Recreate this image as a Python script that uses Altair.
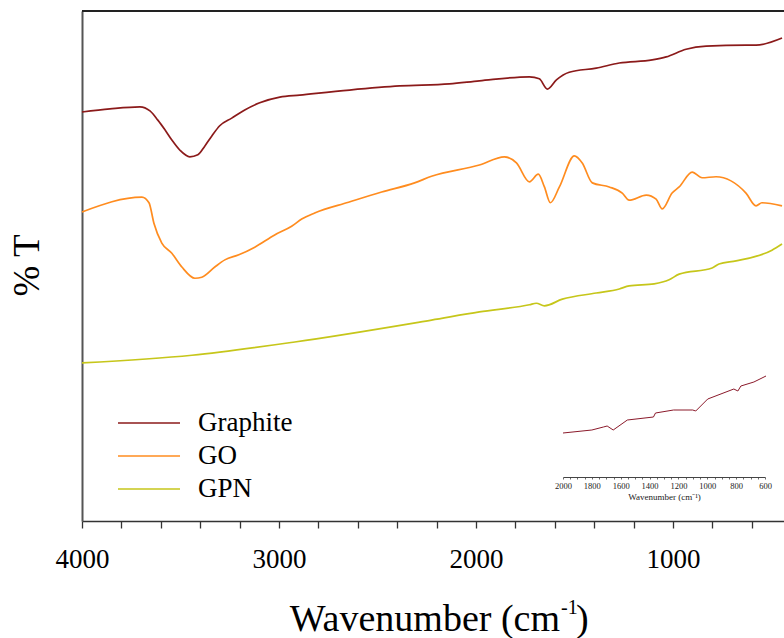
import altair as alt
import pandas as pd

# ---------------- data ----------------
series_names = ["Graphite", "GO", "GPN"]
series_colors = ["#8B1A1A", "#FF8C1F", "#C6C61A"]

graphite_wn = [4000, 3858, 3706, 3655, 3615, 3579, 3544, 3503, 3453, 3412, 3377, 3341,
               3301, 3240, 3174, 3098, 2996, 2895, 2642, 2388, 2135, 1983, 1729, 1679,
               1638, 1592, 1527, 1390, 1273, 1106, 1035, 934, 832, 630, 579, 447]
graphite_t = [80.2, 80.8, 81.2, 80.4, 78.6, 76.7, 74.7, 72.7, 71.4, 71.8, 73.5, 75.5,
              77.5, 79.0, 80.6, 82.0, 83.1, 83.5, 84.5, 85.3, 85.7, 86.3, 87.1, 86.7,
              84.7, 86.5, 88.0, 88.8, 89.8, 90.4, 91.0, 92.5, 93.1, 93.3, 93.3, 94.7]

go_wn = [4000, 3696, 3660, 3635, 3595, 3544, 3493, 3427, 3392, 3326, 3275, 3204, 3123,
         3022, 2936, 2885, 2819, 2647, 2479, 2312, 2226, 1983, 1856, 1795, 1729, 1684,
         1653, 1623, 1577, 1501, 1461, 1410, 1324, 1258, 1223, 1136, 1086, 1055, 1005,
         969, 903, 853, 782, 630, 579, 549, 447]
go_t = [60.6, 63.5, 62.4, 58.4, 54.5, 52.5, 49.8, 47.6, 47.8, 49.8, 51.2, 52.2, 53.7,
        56.1, 57.8, 59.2, 60.4, 62.5, 64.5, 66.3, 67.6, 69.8, 71.4, 70.2, 66.5, 68.0,
        65.5, 62.4, 65.5, 71.6, 70.2, 66.3, 65.5, 64.3, 62.9, 63.9, 63.1, 61.2, 64.3,
        65.5, 68.4, 67.3, 67.5, 64.3, 61.8, 62.4, 61.8]

gpn_wn = [4000, 3442, 2920, 2226, 1983, 1729, 1694, 1653, 1562, 1390, 1273, 1223, 1096,
          1020, 969, 802, 767, 680, 498, 447]
gpn_t = [31.0, 32.5, 35.1, 39.4, 41.0, 42.4, 42.7, 42.2, 43.5, 44.7, 45.5, 46.1, 46.5,
         47.3, 48.4, 49.6, 50.4, 51.0, 53.1, 54.3]

# inset (2000-600 cm-1)
inset_wn = [2000, 1800, 1720, 1694, 1652, 1554, 1373, 1359, 1234, 1101, 1080, 997, 816,
            788, 767, 677, 593]
inset_t = [44, 47, 50, 51, 47, 57, 60, 64, 67, 67, 66, 78, 88, 86, 91, 95, 101]

main_ticks = [4000, 3800, 3600, 3400, 3200, 3000, 2800, 2600, 2400, 2200, 2000, 1800,
              1600, 1400, 1200, 1000, 800, 600]
inset_ticks = [2000, 1950, 1900, 1850, 1800, 1750, 1700, 1650, 1600, 1550, 1500, 1450,
               1400, 1350, 1300, 1250, 1200, 1150, 1100, 1050, 1000, 950, 900, 850,
               800, 750, 700, 650, 600]

# ---------------- tables ----------------
rows = []
for name, wn, t in [("Graphite", graphite_wn, graphite_t),
                    ("GO", go_wn, go_t),
                    ("GPN", gpn_wn, gpn_t)]:
    for a, b in zip(wn, t):
        rows.append({"series": name, "wn": a, "t": b})
df = pd.DataFrame(rows)
inset_df = pd.DataFrame({"wn": inset_wn, "t": inset_t})
one = pd.DataFrame({"a": [0]})

SERIF = "Liberation Serif"
W, H = 702, 510

main = alt.Chart(df).mark_line(strokeWidth=1.7, interpolate="monotone").encode(
    x=alt.X("wn:Q",
            scale=alt.Scale(domain=[4000, 437], nice=False, zero=False),
            axis=alt.Axis(values=main_ticks, title=None, grid=False,
                          labelExpr="datum.value % 1000 === 0 ? format(datum.value, 'd') : ''",
                          tickSize=7, tickWidth=1.3, tickColor="#333",
                          domainColor="#333", domainWidth=1.6,
                          labelFont=SERIF, labelFontSize=27, labelColor="black",
                          labelPadding=18, labelFlush=False)),
    y=alt.Y("t:Q",
            scale=alt.Scale(domain=[0, 100], nice=False, zero=False),
            axis=alt.Axis(title="% T", ticks=False, labels=False, grid=False,
                          domainColor="#555", domainWidth=2,
                          titleFont=SERIF, titleFontSize=37, titleFontWeight="normal",
                          titleColor="black", titleX=-44, titleY=254,
                          titleAlign="center", titleBaseline="alphabetic")),
    color=alt.Color("series:N",
                    scale=alt.Scale(domain=series_names, range=series_colors),
                    legend=alt.Legend(orient="none", legendX=35, legendY=397, title=None,
                                      symbolType="stroke", symbolSize=3844,
                                      symbolStrokeWidth=1.5, labelFont=SERIF,
                                      labelFontSize=27, labelColor="black",
                                      labelOffset=17, clipHeight=30, rowPadding=3,
                                      padding=0)),
)

inset = alt.Chart(inset_df).mark_line(strokeWidth=1, color="#8B1A2B").encode(
    x=alt.X("wn:Q",
            scale=alt.Scale(domain=[2000, 600], range=[481, 683], nice=False, zero=False),
            axis=alt.Axis(orient="bottom", offset=-44, values=inset_ticks, grid=False,
                          labelExpr="datum.value % 200 === 0 ? format(datum.value, 'd') : ''",
                          tickSize=2, tickWidth=0.8, tickColor="#444",
                          domainColor="#444", domainWidth=1,
                          labelFont=SERIF, labelFontSize=8.5, labelColor="#222",
                          labelPadding=2, labelFlush=False,
                          title="Wavenumber (cm\u207b\u00b9)", titleFont=SERIF,
                          titleFontSize=9, titleFontWeight="normal", titleColor="#222",
                          titlePadding=3)),
    y=alt.Y("t:Q", scale=alt.Scale(domain=[0, 110], range=[466, 356]), axis=None),
)

frame_top = alt.Chart(one).mark_rule(color="#222", strokeWidth=2).encode(
    x=alt.value(0), x2=alt.value(W), y=alt.value(0))

t1 = alt.Chart(one).mark_text(font=SERIF, fontSize=38, align="right",
                              baseline="alphabetic", color="black").encode(
    x=alt.value(478), y=alt.value(620), text=alt.value("Wavenumber (cm"))
t2 = alt.Chart(one).mark_text(font=SERIF, fontSize=20, align="left",
                              baseline="alphabetic", color="black").encode(
    x=alt.value(479), y=alt.value(603), text=alt.value("-1"))
t3 = alt.Chart(one).mark_text(font=SERIF, fontSize=38, align="left",
                              baseline="alphabetic", color="black").encode(
    x=alt.value(494), y=alt.value(620), text=alt.value(")"))

chart = alt.layer(main, inset, frame_top, t1, t2, t3).resolve_scale(
    x="independent", y="independent"
).properties(
    width=W, height=H,
    autosize=alt.AutoSizeParams(type="none"),
    padding={"left": 82, "top": 11, "right": 0, "bottom": 117},
).configure(
    background="white", font=SERIF
).configure_view(stroke=None).configure_axis(
    labelFont=SERIF, titleFont=SERIF
).configure_legend(labelFont=SERIF)

chart.save("out.html", embed_options={"renderer": "svg", "actions": False})
